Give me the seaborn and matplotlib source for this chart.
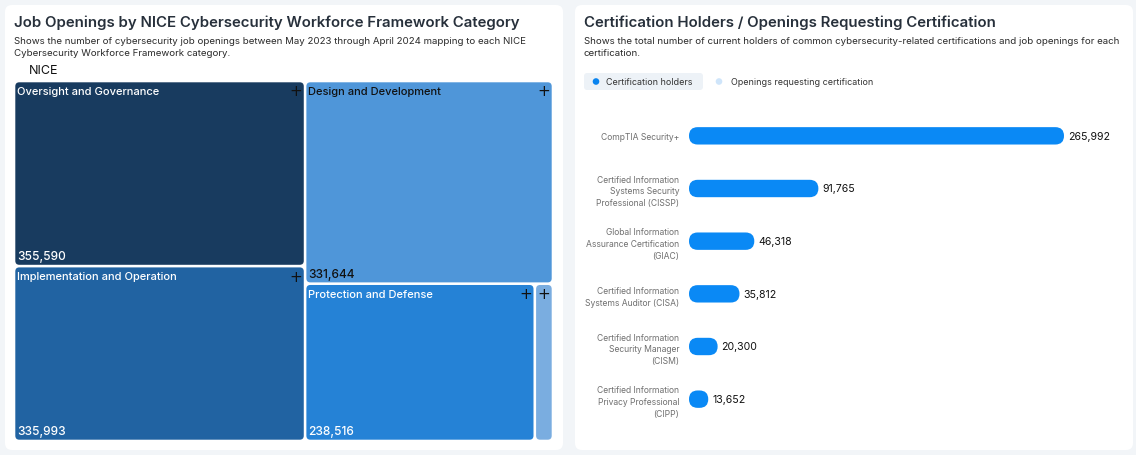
import matplotlib
matplotlib.use("Agg")
import matplotlib.pyplot as plt
from matplotlib.patches import FancyBboxPatch, Circle
import seaborn as sns
import pandas as pd

# ---------------- data ----------------
nice_categories = ["Oversight and Governance", "Implementation and Operation",
                   "Design and Development", "Protection and Defense", "Investigation"]
nice_openings = [355590, 335993, 331644, 238516, 18900]
nice_colors = ["#183b5f", "#2163a2", "#4f96d9", "#2582d6", "#7aade0"]
nice_text_colors = ["white", "white", "#111111", "white", "white"]

cert_names = ["CompTIA Security+",
              "Certified Information\nSystems Security\nProfessional (CISSP)",
              "Global Information\nAssurance Certification\n(GIAC)",
              "Certified Information\nSystems Auditor (CISA)",
              "Certified Information\nSecurity Manager\n(CISM)",
              "Certified Information\nPrivacy Professional\n(CIPP)"]
cert_holders = [265992, 91765, 46318, 35812, 20300, 13652]
legend_labels = ["Certification holders", "Openings requesting certification"]

FONT = ["Inter", "DejaVu Sans"]
sns.set_theme(style="white")
plt.rcParams["font.family"] = FONT

W, H = 1136, 456
fig = plt.figure(figsize=(W / 100, H / 100), dpi=100)
fig.patch.set_facecolor("#f2f5f8")

# background axes in pixel coordinates
bg = fig.add_axes([0, 0, 1, 1])
bg.set_xlim(0, W)
bg.set_ylim(H, 0)
bg.axis("off")

for (x0, x1) in [(5, 563), (575, 1133)]:
    bg.add_patch(FancyBboxPatch((x0, 6), x1 - x0, 445, boxstyle="round,pad=0,rounding_size=7",
                                fc="white", ec="none"))

title_c = "#27303b"
bg.text(14, 23, "Job Openings by NICE Cybersecurity Workforce Framework Category",
        fontsize=10.8, fontweight="semibold", color=title_c, va="center")
bg.text(14, 41, "Shows the number of cybersecurity job openings between May 2023 through April 2024 mapping to each NICE",
        fontsize=6.97, color="#2a2a2a", va="center")
bg.text(14, 53, "Cybersecurity Workforce Framework category.", fontsize=6.97, color="#2a2a2a", va="center")
bg.text(29, 71, "NICE", fontsize=9, color="#111111", va="center")

bg.text(584, 23, "Certification Holders / Openings Requesting Certification",
        fontsize=10.8, fontweight="semibold", color=title_c, va="center")
bg.text(584, 41, "Shows the total number of current holders of common cybersecurity-related certifications and job openings for each",
        fontsize=6.97, color="#2a2a2a", va="center")
bg.text(584, 53, "certification.", fontsize=6.97, color="#2a2a2a", va="center")

# legend
bg.add_patch(FancyBboxPatch((584, 74), 119, 17, boxstyle="round,pad=0,rounding_size=3",
                            fc="#edf2f7", ec="none"))
bg.add_patch(Circle((596, 82.5), 3.3, fc="#0a84ef", ec="none"))
bg.text(606.5, 82.5, legend_labels[0], fontsize=6.45, color="#333333", va="center")
bg.add_patch(Circle((719, 82.5), 3.3, fc="#cfe5fa", ec="none"))
bg.text(731, 82.5, legend_labels[1], fontsize=6.45, color="#333333", va="center")


# ---------------- treemap ----------------
def worst(row, side):
    s = sum(row)
    return max(max(side * side * r / (s * s), s * s / (side * side * r)) for r in row)


def squarify(sizes, x, y, dx, dy):
    rects = []
    sizes = list(sizes)
    while sizes:
        side = min(dx, dy)
        i = 1
        while i < len(sizes) and worst(sizes[:i + 1], side) <= worst(sizes[:i], side):
            i += 1
        row, sizes = sizes[:i], sizes[i:]
        s = sum(row)
        if dx >= dy:
            w = s / dy
            yy = y
            for r in row:
                hh = r / w
                rects.append((x, yy, w, hh))
                yy += hh
            x += w
            dx -= w
        else:
            hg = s / dx
            xx = x
            for r in row:
                ww = r / hg
                rects.append((xx, y, ww, hg))
                xx += ww
            y += hg
            dy -= hg
    return rects


TX0, TY0, TX1, TY1 = 14, 82, 553, 442
tw, th = TX1 - TX0, TY1 - TY0
tax = fig.add_axes([TX0 / W, 1 - TY1 / H, tw / W, th / H])
tax.set_xlim(0, tw)
tax.set_ylim(th, 0)
tax.axis("off")

total = sum(nice_openings)
scaled = [v * tw * th / total for v in nice_openings]
rects = squarify(scaled, 0, 0, tw, th)
g = 1.3
for (x, y, w, h), name, val, col, tc in zip(rects, nice_categories, nice_openings,
                                            nice_colors, nice_text_colors):
    tax.add_patch(FancyBboxPatch((x + g, y + g), w - 2 * g, h - 2 * g,
                                 boxstyle="round,pad=0,rounding_size=4", fc=col, ec="none"))
    px = x + w - 9 if w > 60 else x + w / 2
    tax.text(px, y + 10, "+", fontsize=11, color="#111111", ha="center", va="center",
             family=["DejaVu Sans"])
    if w > 60:
        tax.text(x + 3, y + 10, name, fontsize=8, color=tc, va="center", fontweight="medium")
        tax.text(x + 3, y + h - 10, f"{val:,}", fontsize=8.6, color=tc, va="center",
                 fontweight="medium")

# ---------------- bar chart ----------------
BX0, BX1 = 689, 1120
BY0, BY1 = 110.5, 426.5
bax = fig.add_axes([BX0 / W, 1 - BY1 / H, (BX1 - BX0) / W, (BY1 - BY0) / H])
df = pd.DataFrame({"cert": cert_names, "holders": cert_holders})
sns.barplot(data=df, x="holders", y="cert", orient="h", color="#0a89f5", width=0.33,
            ax=bax, saturation=1)
xmax = cert_holders[0] * (BX1 - BX0) / 375.0
bax.set_xlim(0, xmax)
bax.set_ylim(len(cert_names) - 0.5, -0.5)
for s in bax.spines.values():
    s.set_visible(False)
bax.set_xticks([])
bax.set_xlabel("")
bax.set_ylabel("")
bax.tick_params(axis="y", length=0, pad=7)
for lab in bax.get_yticklabels():
    lab.set_fontsize(6.15)
    lab.set_color("#707070")
    lab.set_linespacing(1.4)
    lab.set_ha("right")

fig.canvas.draw()
bb = bax.get_window_extent()
xu_per_px = xmax / bb.width
yu_per_px = len(cert_names) / bb.height
for p in list(bax.patches):
    x, y = p.get_x(), p.get_y()
    w, h = p.get_width(), p.get_height()
    p.set_visible(False)
    r = (h / yu_per_px) / 2 * xu_per_px
    bax.add_patch(FancyBboxPatch((x, y), w, h, boxstyle=f"round,pad=0,rounding_size={r}",
                                 mutation_aspect=yu_per_px / xu_per_px,
                                 fc="#0a89f5", ec="none"))
for i, v in enumerate(cert_holders):
    bax.text(v + 4 * xu_per_px, i, f"{v:,}", fontsize=7.6, color="#111111", va="center")

fig.savefig("out.png", dpi=100, facecolor=fig.get_facecolor())
